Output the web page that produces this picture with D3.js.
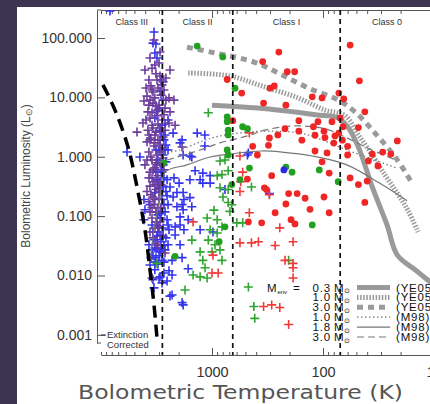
<!DOCTYPE html>
<html><head><meta charset="utf-8">
<script src="https://cdn.jsdelivr.net/npm/d3@7"></script>
<style>body{margin:0;background:#fff;overflow:hidden}</style>
</head><body><svg id="c" width="430" height="404"></svg>
<script>
// ---------------- data (Tbol in K, Lbol in Lsun) ----------------
const xMajor = [1000, 100, 10];
const yTicks = [100, 10, 1, 0.1, 0.01, 0.001];
const classBounds = [2800, 650, 70];
const classNames = ["Class III", "Class II", "Class I", "Class 0"];

const redDots = [
[250,58],[57,76],[350,40],[210,27],[180,27],[47,19],[730,20],[300,14.3],[275,15.6],[540,11.8],
[125,10.2],[102,9.8],[72,11.8],[65,9.4],[343,8.0],[216,7.4],[42,5.7],[165,4.05],[111,3.9],[650,4.05],
[48,3.1],[122,3.2],[165,2.7],[220,2.97],[255,2.33],[304,2.07],[310,1.56],[155,1.9],[118,2.3],[98,2.7],
[96,2.1],[78,2.24],[72,2.5],[67,1.9],[80,1.7],[118,1.25],[92,1.16],[102,0.82],[88,0.53],[290,0.48],
[60,1.5],[60,1.07],[36,1.11],[29,1.2],[24.5,1.11],[21.4,1.85],[39,0.85],[32,0.70],[57,0.44],[48,0.34],
[40,0.39],[42,0.17],[430,1.5],[390,1.07],[480,0.42],[337,0.30],[323,0.28],[204,0.24],[171,0.24],[145,0.20],
[98,0.21],[216,0.16],[131,0.13],[88,0.114],[270,0.114],[194,0.087],[179,0.074],[357,0.077],[470,0.080],[70,4.5],
[83,3.9],[66,3.2]
];
const greenDots = [
[1360,73],[800,48],[620,14.3],[730,4.7],[730,3.9],[715,2.8],[715,2.33],[530,3.2],[480,2.97],[730,1.3],
[460,0.645],[560,0.41],[216,0.67],[190,0.55],[108,0.6],[73,0.38],[125,0.071],[2710,0.79],[2150,0.021],[764,0.066],
[862,0.037],[663,0.34],[715,1.07]
];
const blueDots = [[225,0.6]];
const greenCrosses = [
[1080,5.5],[847,0.85],[764,0.88],[813,0.50],[715,0.58],[898,0.48],[847,0.30],[715,0.28],[796,0.21],[715,0.17],
[663,0.155],[1107,0.093],[898,0.087],[813,0.066],[1518,0.0395],[1080,0.0395],[940,0.033],[847,0.027],[813,0.018],[1210,0.018],
[1155,0.0135],[1480,0.0102],[1280,0.0095],[1107,0.0091],[1750,0.0057],[598,0.077],[529,0.077],[470,0.0064],[420,0.003],[412,0.0019],
[1000,0.025],[1280,0.025],[898,0.052],[3130,0.016],[204,0.018],[441,0.31],[960,0.126],[690,0.12],[1040,0.059]
];
const redCrosses = [
[461,2.52],[560,1.03],[551,0.38],[560,0.26],[1480,0.080],[980,0.022],[1000,0.011],[880,0.011],[560,0.0355],[461,0.114],
[441,0.0355],[382,0.037],[245,0.0635],[186,0.037],[270,0.032],[220,0.018],[186,0.016],[186,0.0135],[186,0.0091],[343,0.003],
[290,0.0032],[245,0.0029],[204,0.0015],[304,0.23],[529,0.55]
];
const purpleCrosses = [
[4020,28.9],[3470,31],[3000,38],[3270,35],[2390,28.9],[3700,19.6],[3130,19.6],[2820,16.2],[3470,13.3],[2710,13.3],
[3270,9.8],[2440,9.8],[2200,9.0],[3700,7.4],[3000,7.4],[2650,6.6],[3470,5.5],[3130,4.9],[2710,5.1],[4100,8.7],
[4740,2.6],[2440,3.7],[2150,3.4],[4190,3.7],[3470,3.4],[3780,2.8],[3200,2.6],[2940,3.05],[3550,2.07],[3070,1.92],
[3330,1.52],[2820,1.41],[3700,1.20],[3130,1.07],[3470,0.88],[2940,0.79],[3270,0.65],[3620,0.55],[3070,0.48],[3400,0.38],
[2880,0.34],[3200,0.28],[3550,0.23],[3000,0.197],[3330,0.156],[3130,0.118],[3470,0.093],[2940,0.080],[3270,0.063],[3400,0.043],
[3070,0.032],[2650,0.024],[3470,0.0091],[3780,5.7],[2820,4.15],[3850,1.78],[2760,2.15],[3620,0.32],[3850,0.88],[2710,0.60],
[1860,1.46],[3330,92.5],[2940,58],[3620,46],[2600,21.2],[3930,14.4],[2390,5.7],
[3200,25],[3550,15.6],[2880,10.9],[3400,8.0],[3070,6.1],[3620,4.5],[2650,2.8],[3270,2.33],[2940,1.58],[3620,1.92],
[2760,0.95],[3200,0.79],[3470,0.44],[3000,0.38],[3270,0.19],[2880,0.139],[3620,0.118],[3130,0.080],
[3850,10.5],[3400,12.3],[3070,14.4],[2760,18.2],[3620,9.0],[3200,7.2],[3930,4.15],[3400,3.05],[3070,3.55],[3700,2.33],
[3270,1.71],[2880,1.20],[3550,0.99],[3130,0.73],[3400,0.60],[3700,0.44],[3270,0.34],[3000,0.26],[3400,0.21],[3700,0.175],
[3200,0.118],[3470,0.139],[3000,0.063],[3620,0.054],[3200,0.034],[2820,0.046],[3850,0.26],[4020,0.73],[2600,9.0],[2940,22.9]
];
const blueCrosses = [
[3330,126],[3400,82],[3200,79],[3270,56],[3130,46],[2940,12.8],[3000,6.6],[3130,5.9],[3270,4.5],[8300,285],
[2240,2.5],[4460,0.99],[5830,1.20],[1360,2.5],[1160,2.33],[1860,1.92],[1580,1.03],[1820,1.07],[1940,1.71],[1520,0.99],
[1420,0.58],[1210,0.53],[1040,0.48],[1280,0.41],[1580,0.41],[2240,0.21],[1210,0.36],[1820,0.25],[1580,0.205],[1860,0.156],
[1820,0.128],[1640,0.087],[980,0.054],[1860,0.020],[1640,0.013],[1820,0.0032],[1940,0.071],[2200,0.44],[1980,0.36],[2390,0.31],
[2070,0.25],[1790,0.19],[2070,0.144],[1940,0.097],[2150,0.066],[2440,0.059],[1790,0.059],[2150,0.048],[4020,0.128],[4100,0.19],
[4100,0.087],[480,1.07],[3270,0.0125],[3000,0.0091],[3330,0.0062],[2710,0.011],[2440,0.012],[2290,0.0102],[2540,0.0081],[2820,0.0075],
[2390,0.0045],[1860,0.0035],[1940,0.033],[2290,0.0047],[1520,0.144],[1280,0.059],[2290,0.018],[2940,0.0095],[3400,0.0085],[1160,1.52],
[1040,0.36],[2490,1.30],[764,0.28],[470,1.16],[304,0.24],
[2820,3.4],[2650,2.33],[2940,1.92],[2600,1.58],[2760,1.07],[3070,0.88],[2600,0.82],[2880,0.60],[3130,0.41],[2710,0.44],
[2940,0.30],[2600,0.26],[3270,0.25],[2820,0.19],[3070,0.139],[2650,0.118],[2880,0.093],[3200,0.080],[2760,0.063],[3070,0.054],
[3330,0.040],[2880,0.037],[3130,0.029],[2710,0.032],[3470,0.027],[3000,0.0215],[3270,0.0168],[2820,0.018],[3620,0.015],[2600,0.043],
[2490,0.156],[2540,0.41],[3470,0.071],[3700,0.033],[3200,0.020],[2490,4.15],[3620,0.156],[2490,0.071],
[3000,1.30],[2760,0.73],[3200,0.55],[2940,0.048],[3070,0.105],[3400,0.054],[2650,0.027],[2940,0.025],[3130,0.040],[2820,0.26],
[3070,0.34],[2710,1.92],[2880,2.6],[2760,9.0],[2880,19.6],
[2940,2.8],[2650,1.30],[2820,0.55],[2540,0.22],[2710,0.156],[2940,0.11],[2540,0.087],[3070,0.068],[2760,0.046],[3270,0.029],
[2880,0.027],[3400,0.0215],[3070,0.0155],[2710,0.0168],[3550,0.020],[3130,0.046],[2490,0.033],[2760,0.32],[3200,1.30],[2650,3.55]
];

// model tracks
const ye05_03 = [[1000,7.4],[382,6.6],[117,5.1],[73,4.5],[60,3.2],[48,1.46],[36,0.31],[26.5,0.071],[21.4,0.022],[14.8,0.0125],[12,0.0091],[8.8,0.0057]];
const ye05_10 = [[1640,25.8],[690,22.9],[337,15],[168,9.8],[96,6.1],[63,4.9],[48,2.33],[36,1.07],[27.6,0.49],[21,0.23],[17.1,0.123],[13.9,0.054]];
const ye05_30 = [[1680,70],[940,56],[412,39],[235,24],[136,14.4],[73,9.0],[51.5,5.7],[34,2.5],[22,0.95],[15.5,0.34]];
const m98_10 = [[2760,1.16],[1940,1.30],[1280,1.78],[847,2.24],[480,2.6],[304,2.7],[160,2.5],[102,1.92],[61,1.30],[38,0.95],[22,0.65]];
const m98_18 = [[3620,0.0168],[3270,0.071],[2940,0.205],[2650,0.55],[1680,0.73],[1040,0.99],[690,1.11],[357,1.25],[235,1.20],[125,1.03],[61,0.73],[31,0.36],[17.5,0.182]];
const m98_30 = [[2540,0.88],[1280,1.30],[847,1.71],[480,2.24],[337,2.8],[179,3.3],[96,2.95],[63,2.15],[38,1.35],[22,0.88]];
const extinctionLine = [[9600,16.2],[7480,6.1],[5710,1.46],[4740,0.31],[4020,0.059],[3620,0.0125],[3330,0.0032],[3130,0.00089]];

const legendMass = ["0.3","1.0","3.0","1.0","1.8","3.0"];
const legendRef = ["(YE05)","(YE05)","(YE05)","(M98)","(M98)","(M98)"];

// ---------------- drawing ----------------
const W = 430, H = 404;
const frame = {left:97, top:10, bottom:355, yAxisEnd:343};
const svg = d3.select("#c");
svg.append("rect").attr("width",W).attr("height",H).attr("fill","#fff");
svg.append("rect").attr("width",17).attr("height",H).attr("fill","#3d3452");
svg.append("rect").attr("width",W).attr("height",7).attr("fill","#3d3452");

const x = d3.scaleLog().domain([10000,10]).range([101,434]);
const y = d3.scaleLog().domain([0.00073,296]).range([frame.yAxisEnd, frame.top]);

const sans = "Liberation Sans, Arial, sans-serif";
const axisCol = "#555";

function styleAxis(g){
  g.selectAll("path,line").attr("stroke",axisCol).attr("stroke-width",1);
  g.attr("font-family",sans);
}
// top axis (ticks inward)
svg.append("g").attr("transform",`translate(0,${frame.top})`)
  .call(d3.axisBottom(x).tickValues(x.ticks()).tickSize(4).tickSizeOuter(0).tickFormat(""))
  .call(styleAxis);
svg.append("line").attr("x1",frame.left).attr("x2",x.range()[0]).attr("y1",frame.top).attr("y2",frame.top).attr("stroke",axisCol);
svg.append("g").attr("transform",`translate(0,${frame.top})`)
  .call(d3.axisBottom(x).tickValues(xMajor).tickSize(8).tickSizeOuter(0).tickFormat(""))
  .call(g=>g.select(".domain").remove()).call(styleAxis);
// bottom axis
svg.append("g").attr("transform",`translate(0,${frame.bottom})`)
  .call(d3.axisTop(x).tickValues(x.ticks()).tickSize(3).tickSizeOuter(0).tickFormat(""))
  .call(styleAxis);
svg.append("g").attr("transform",`translate(0,${frame.bottom})`)
  .call(d3.axisTop(x).tickValues(xMajor).tickSize(7).tickSizeOuter(0).tickFormat(""))
  .call(g=>g.select(".domain").remove()).call(styleAxis);
svg.append("g").attr("transform",`translate(0,${frame.bottom})`)
  .call(d3.axisBottom(x).tickValues(xMajor).tickSize(0).tickPadding(12).tickFormat(d3.format("d")))
  .call(g=>g.select(".domain").remove())
  .call(g=>g.selectAll("text").attr("font-size",14.5).attr("fill","#333").attr("font-family",sans));
// left axis
svg.append("g").attr("transform",`translate(${frame.left},0)`)
  .call(d3.axisRight(y).tickValues(yTicks).tickSize(8).tickSizeOuter(0).tickFormat(""))
  .call(styleAxis);
svg.append("g").attr("transform",`translate(${frame.left},0)`)
  .call(d3.axisLeft(y).tickValues(yTicks).tickSize(0).tickPadding(5).tickFormat(d3.format(".3f")))
  .call(g=>g.select(".domain").remove())
  .call(g=>g.selectAll("text").attr("font-size",14).attr("fill","#333").attr("font-family",sans));
svg.append("line").attr("x1",frame.left).attr("x2",frame.left+4)
  .attr("y1",frame.yAxisEnd).attr("y2",frame.yAxisEnd).attr("stroke",axisCol);

// axis titles
svg.append("text").attr("x",78).attr("y",399).attr("textLength",325).attr("lengthAdjust","spacingAndGlyphs")
  .attr("font-family","DejaVu Sans, sans-serif").attr("font-size",20).attr("fill","#555")
  .text("Bolometric Temperature (K)");
const yt = svg.append("text").attr("transform","translate(30,176) rotate(-90)").attr("text-anchor","middle")
  .attr("font-family",sans).attr("font-size",12).attr("fill","#444");
yt.append("tspan").text("Bolometric Luminosity (L");
yt.append("tspan").attr("font-size",9).attr("dy",2).text("\u2299");
yt.append("tspan").attr("dy",-2).text(")");

// clip region for data
svg.append("defs").append("clipPath").attr("id","plot").append("rect")
  .attr("x",frame.left+1).attr("y",frame.top).attr("width",W).attr("height",frame.bottom-frame.top);
const plot = svg.append("g").attr("clip-path","url(#plot)");

const cross = "M-4.5,0H4.5M0,-4.5V4.5";
function crosses(data,col){
  plot.append("g").selectAll("path").data(data).join("path")
    .attr("d",cross).attr("transform",d=>`translate(${x(d[0])},${y(d[1])})`)
    .attr("stroke",col).attr("stroke-width",1.6).attr("fill","none");
}
function dots(data,col){
  plot.append("g").selectAll("circle").data(data).join("circle")
    .attr("cx",d=>x(d[0])).attr("cy",d=>y(d[1])).attr("r",3.4).attr("fill",col);
}
crosses(blueCrosses,"#3434ee");
crosses(purpleCrosses,"#6c3c9c");
crosses(greenCrosses,"#2fa52f");
crosses(redCrosses,"#f03a3a");

const line = d3.line().x(d=>x(d[0])).y(d=>y(d[1])).curve(d3.curveCatmullRom.alpha(0.5));
const models = [ye05_03, ye05_10, ye05_30, m98_10, m98_18, m98_30];
const modelStyle = [
  {w:5, c:"#9a9a9a", dash:null},
  {w:5, c:"#9a9a9a", dash:"1.5,1.6"},
  {w:5, c:"#9a9a9a", dash:"6,5"},
  {w:1.2, c:"#777", dash:"1.5,2.5"},
  {w:1.2, c:"#777", dash:null},
  {w:1.2, c:"#777", dash:"7,4"}
];
models.forEach((m,i)=>{
  const s = modelStyle[i];
  plot.append("path").attr("d",line(m)).attr("fill","none").attr("stroke",s.c)
    .attr("stroke-width",s.w).attr("stroke-dasharray",s.dash);
});
plot.append("path").attr("d",line(extinctionLine)).attr("fill","none").attr("stroke","#000")
  .attr("stroke-width",3.5).attr("stroke-dasharray","12,7");

dots(redDots,"#ee2626");
dots(greenDots,"#22a022");
dots(blueDots,"#2a2ae0");

// class boundaries
svg.append("g").selectAll("line").data(classBounds).join("line")
  .attr("x1",d=>x(d)).attr("x2",d=>x(d)).attr("y1",frame.top).attr("y2",frame.bottom)
  .attr("stroke","#111").attr("stroke-width",1.7).attr("stroke-dasharray","5,4");
const edges = [x.domain()[0], ...classBounds, x.domain()[1]];
svg.append("g").selectAll("text").data(classNames).join("text")
  .attr("x",(d,i)=>x(Math.sqrt(edges[i]*edges[i+1]))).attr("y",25).attr("text-anchor","middle")
  .attr("font-family",sans).attr("font-size",9).attr("fill","#333").text(d=>d);

// extinction label
svg.append("text").attr("x",107).attr("y",338).attr("font-family",sans).attr("font-size",9.5).attr("fill","#333").text("Extinction");
svg.append("text").attr("x",107).attr("y",348).attr("font-family",sans).attr("font-size",9.5).attr("fill","#333").text("Corrected");
svg.append("line").attr("x1",101).attr("x2",106).attr("y1",335).attr("y2",335).attr("stroke","#333");

// legend
const lg = svg.append("g").attr("font-family",sans).attr("font-size",11.5).attr("fill","#111").attr("letter-spacing",0.8);
const rowY = i => 291.5 + i*9.9;
const mt = lg.append("text").attr("x",267).attr("y",rowY(0));
mt.append("tspan").text("M");
mt.append("tspan").attr("font-size",6).attr("dy",2.5).attr("letter-spacing",0).text("env");
lg.append("text").attr("x",293).attr("y",rowY(0)).text("=");
legendMass.forEach((m,i)=>{
  lg.append("text").attr("x",331).attr("y",rowY(i)).attr("text-anchor","end").text(m);
  const t = lg.append("text").attr("x",334).attr("y",rowY(i));
  t.append("tspan").text("M");
  t.append("tspan").attr("font-size",7).attr("dy",1.5).text("\u2299");
  const s = modelStyle[i];
  lg.append("line").attr("x1",357).attr("x2",390).attr("y1",rowY(i)-4).attr("y2",rowY(i)-4)
    .attr("stroke",s.c).attr("stroke-width",s.w).attr("stroke-dasharray",s.dash);
  lg.append("text").attr("x",396).attr("y",rowY(i)).text(legendRef[i]);
});
</script></body></html>
